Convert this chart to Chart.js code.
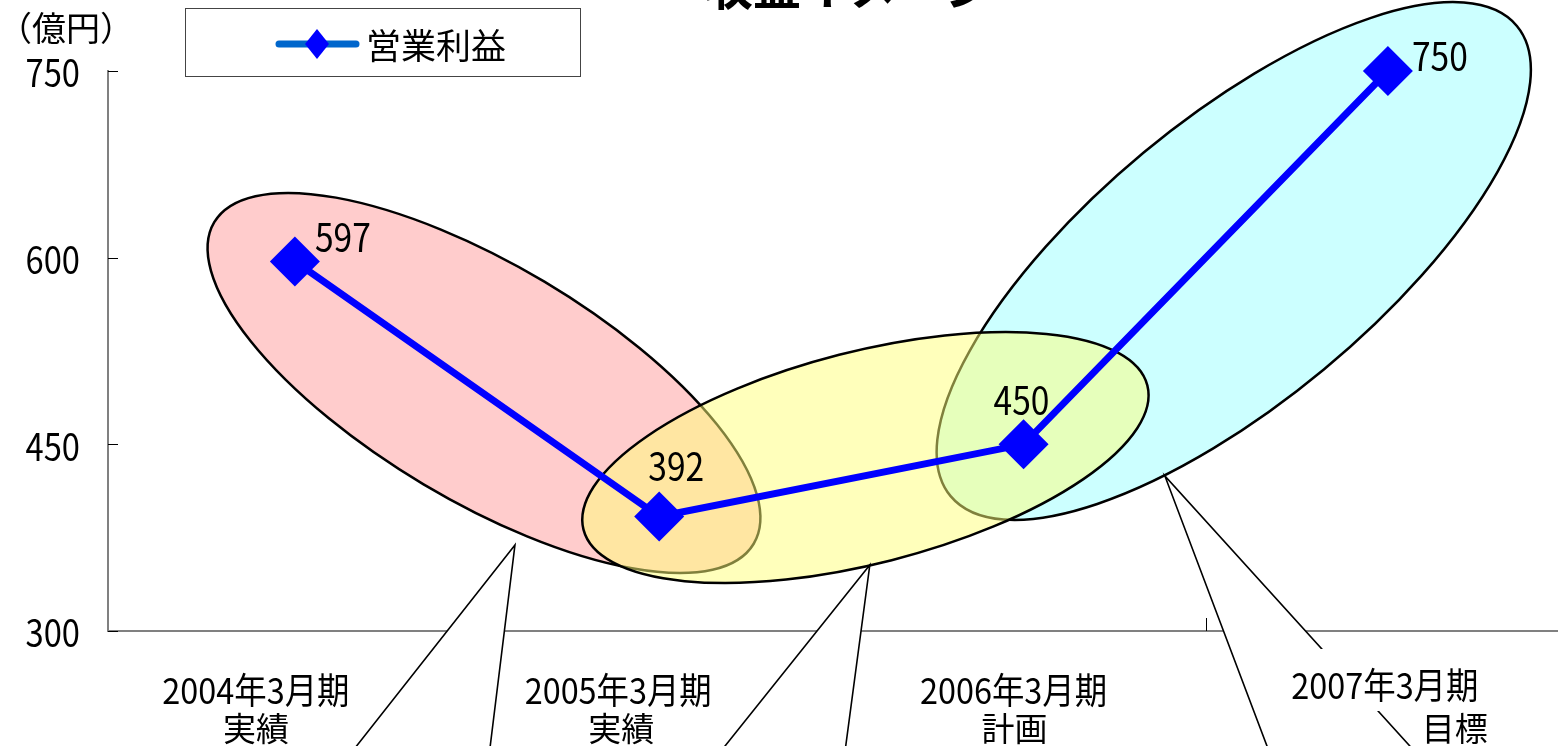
<!DOCTYPE html>
<html lang="ja">
<head>
<meta charset="utf-8">
<title>収益イメージ</title>
<script src="https://cdn.jsdelivr.net/npm/chart.js@4.4.1/dist/chart.umd.min.js"></script>
<style>
  html, body { margin: 0; padding: 0; background: #fff; overflow: hidden; }
  /* the line controller keeps half a marker of room on the right, so the canvas runs a bit past the window */
  #wrap { position: relative; width: 1583px; height: 746px; }
</style>
</head>
<body>
<div id="wrap"><canvas id="grafico"></canvas></div>
<script>
// 営業利益（億円）
const periods = ['2004年3月期', '2005年3月期', '2006年3月期', '2007年3月期'];
const phases = ['実績', '実績', '計画', '目標'];
const profit = [597, 392, 450, 750];
const yTicks = [300, 450, 600, 750];

const JP_FONT = '"Noto Sans CJK JP", sans-serif';
const NARROW = 0.86; // horizontal squeeze for the gothic-style digits

// label offsets (px) from each point
const valueOffsets = [[48, -24], [17, -50], [-2, -44], [52, -15]];
// period / phase label placement: dx from the point, y in px
const periodPos = [[-39, 690], [-41, 690], [-10, 690], [-3, 685]];
const phasePos = [[-39, 728], [-38, 728], [-9, 728], [67, 728]];

// highlight bubbles, centre in axis units, axes in px, callout tip in axis units
const bubbles = [
  { cx: 0.519, cy: 499.3, a: 314, b: 118, rot: 30.8, fill: '#FFCCCC', tip: [0.604, 369.1], legs: [-0.788, -0.123] },
  { cx: 2.577, cy: 597.3, a: 368, b: 141, rot: -39.7, fill: '#CCFFFF', tip: [2.388, 424.6], legs: [0.378, 0.907] },
  { cx: 1.566, cy: 439.4, a: 291, b: 106, rot: -14.35, fill: 'rgba(255,255,120,0.5)', tip: [1.578, 353], legs: [-0.80, -0.133] }
];

function squeezedText(ctx, txt, x, y, sx) {
  ctx.save();
  ctx.translate(x, y);
  ctx.scale(sx, 1);
  ctx.fillText(txt, 0, 0);
  ctx.restore();
}

const decorations = {
  id: 'decorations',
  beforeDatasetsDraw(chart) {
    const { ctx, chartArea: area, scales: { x, y } } = chart;
    ctx.save();

    // y tick labels
    ctx.fillStyle = '#000';
    ctx.font = '38px ' + JP_FONT;
    ctx.textAlign = 'right';
    ctx.textBaseline = 'middle';
    y.ticks.forEach(t => {
      squeezedText(ctx, String(t.value), 80, y.getPixelForValue(t.value) + 2, NARROW);
    });

    // inner tick marks
    ctx.strokeStyle = '#000';
    ctx.lineWidth = 1;
    ctx.beginPath();
    y.ticks.forEach(t => {
      const py = Math.round(y.getPixelForValue(t.value)) + 0.5;
      ctx.moveTo(area.left, py);
      ctx.lineTo(area.left + 10, py);
    });
    for (let i = 0; i < periods.length - 1; i++) {
      const px = Math.round(x.getPixelForValue(i + 0.5)) + 0.5;
      ctx.moveTo(px, area.bottom);
      ctx.lineTo(px, area.bottom - 13);
    }
    ctx.stroke();

    // ellipses
    bubbles.forEach(bb => {
      ctx.beginPath();
      ctx.ellipse(x.getPixelForValue(bb.cx), y.getPixelForValue(bb.cy), bb.a, bb.b, bb.rot * Math.PI / 180, 0, Math.PI * 2);
      ctx.fillStyle = bb.fill;
      ctx.fill();
      ctx.strokeStyle = '#000';
      ctx.lineWidth = 2.5;
      ctx.stroke();
    });

    // callout wedges running off the bottom
    const yEnd = chart.height + 30;
    bubbles.forEach(bb => {
      const tx = x.getPixelForValue(bb.tip[0]);
      const ty = y.getPixelForValue(bb.tip[1]);
      ctx.beginPath();
      ctx.moveTo(tx + bb.legs[0] * (yEnd - ty), yEnd);
      ctx.lineTo(tx, ty);
      ctx.lineTo(tx + bb.legs[1] * (yEnd - ty), yEnd);
      ctx.fillStyle = '#fff';
      ctx.fill();
      ctx.strokeStyle = '#000';
      ctx.lineWidth = 1.6;
      ctx.stroke();
    });
    ctx.restore();
  },
  afterDatasetsDraw(chart) {
    const { ctx, scales: { x } } = chart;
    const meta = chart.getDatasetMeta(0);
    ctx.save();

    // values
    ctx.fillStyle = '#000';
    ctx.font = '39px ' + JP_FONT;
    ctx.textAlign = 'center';
    ctx.textBaseline = 'middle';
    meta.data.forEach((pt, i) => {
      squeezedText(ctx, String(profit[i]), pt.x + valueOffsets[i][0], pt.y + valueOffsets[i][1], NARROW);
    });

    // period labels under the axis
    ctx.font = '36px ' + JP_FONT;
    periods.forEach((txt, i) => {
      const cx = x.getPixelForValue(i) + periodPos[i][0];
      const cy = periodPos[i][1];
      const w = ctx.measureText(txt).width * 0.9;
      ctx.fillStyle = '#fff';
      ctx.fillRect(cx - w / 2 - 5, cy - 36, w + 10, 62);
      ctx.fillStyle = '#000';
      squeezedText(ctx, txt, cx, cy, 0.9);
    });
    ctx.font = '33px ' + JP_FONT;
    phases.forEach((txt, i) => {
      ctx.fillText(txt, x.getPixelForValue(i) + phasePos[i][0], phasePos[i][1]);
    });

    // legend
    ctx.fillStyle = '#fff';
    ctx.fillRect(185, 8, 396, 69);
    ctx.strokeStyle = '#444';
    ctx.lineWidth = 1;
    ctx.strokeRect(185.5, 8.5, 395, 68);
    ctx.strokeStyle = '#0066CC';
    ctx.lineWidth = 7;
    ctx.lineCap = 'round';
    ctx.beginPath();
    ctx.moveTo(279, 44);
    ctx.lineTo(356, 44);
    ctx.stroke();
    ctx.fillStyle = '#0000FF';
    ctx.beginPath();
    ctx.moveTo(317, 29);
    ctx.lineTo(329, 44);
    ctx.lineTo(317, 59);
    ctx.lineTo(305, 44);
    ctx.closePath();
    ctx.fill();
    ctx.fillStyle = '#000';
    ctx.font = '35px ' + JP_FONT;
    ctx.textAlign = 'left';
    ctx.fillText(chart.data.datasets[0].label, 366, 46);

    // unit
    ctx.font = '34px ' + JP_FONT;
    ctx.textAlign = 'center';
    ctx.fillText('（億円）', 66, 28);

    // title (runs off the top)
    ctx.font = 'bold 48px ' + JP_FONT;
    ctx.textAlign = 'left';
    ctx.textBaseline = 'alphabetic';
    ctx.fillText('収益イメージ', 705, 5);
    ctx.restore();
  }
};

new Chart(document.getElementById('grafico'), {
  type: 'line',
  data: {
    datasets: [{
      label: '営業利益',
      data: profit.map((v, i) => ({ x: i, y: v })),
      borderColor: '#0000FF',
      borderWidth: 7,
      backgroundColor: '#0000FF',
      pointStyle: 'rectRot',
      pointRadius: 25,
      pointBorderWidth: 0,
      pointBackgroundColor: '#0000FF',
      tension: 0,
      clip: false
    }]
  },
  options: {
    responsive: true,
    maintainAspectRatio: false,
    animation: false,
    events: [],
    layout: { padding: { left: 0, right: 0, top: 71, bottom: 115 } },
    plugins: {
      legend: { display: false },
      tooltip: { enabled: false }
    },
    scales: {
      x: {
        type: 'linear',
        min: -0.513,
        max: 3.467,
        grid: { display: false, drawTicks: false },
        ticks: { display: false },
        border: { color: '#808080', width: 2 },
        afterFit: s => { s.height = 0; }
      },
      y: {
        min: 300,
        max: 750,
        afterBuildTicks: s => { s.ticks = yTicks.map(v => ({ value: v })); },
        ticks: { display: false },
        grid: { display: false, drawTicks: false },
        border: { color: '#808080', width: 2 },
        afterFit: s => { s.width = 108; }
      }
    }
  },
  plugins: [decorations]
});
</script>
</body>
</html>
